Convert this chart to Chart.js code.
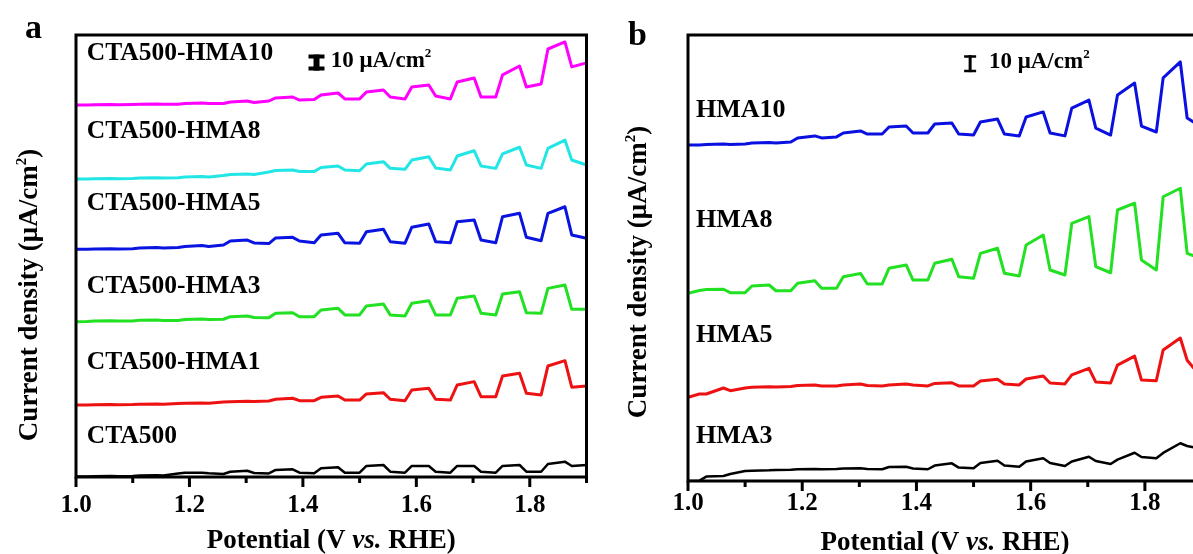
<!DOCTYPE html>
<html><head><meta charset="utf-8">
<script src="https://cdn.jsdelivr.net/npm/chart.js@4.4.1/dist/chart.umd.min.js"></script>
<style>
html,body{margin:0;padding:0;background:#fff;overflow:hidden;width:1193px;height:554px;}
#ca{position:absolute;left:0;top:0;}
#cb{position:absolute;left:593px;top:0;}
</style></head><body>
<canvas id="ca" width="600" height="554"></canvas>
<canvas id="cb" width="700" height="554"></canvas>
<script>
// ---- shared potential axis samples (V vs. RHE) ----
const potential = [1.000,
 1.020,1.032,1.062,1.074, 1.100,1.112,1.142,1.154, 1.180,1.192,1.222,1.234,
 1.260,1.272,1.302,1.314, 1.340,1.352,1.382,1.394, 1.420,1.432,1.462,1.474,
 1.500,1.512,1.542,1.554, 1.580,1.592,1.622,1.634, 1.660,1.672,1.702,1.714,
 1.740,1.752,1.782,1.794, 1.820,1.832,1.862,1.874, 1.900];

// ---- panel a (offset current density, uA/cm2) ----
const cta500HMA10 = [232.5, 232.5,232.6,232.8,232.6, 232.8,232.9,233.1,232.9, 232.9,233.4,233.8,233.4,
 233.4,234.4,235.0,234.1, 235.0,236.9,237.5,235.6, 235.9,238.8,240.0,236.3,
 236.3,240.6,241.9,237.5, 236.3,243.8,245.0,238.1, 236.3,246.9,249.4,237.5,
 237.5,251.3,256.9,243.8, 245.6,267.5,271.9,256.3, 258.8];
const cta500HMA8 = [186.3, 186.3,186.4,186.5,186.4, 186.6,186.9,187.0,186.9, 187.0,187.5,187.8,187.5,
 188.4,189.1,189.4,189.1, 190.6,191.6,191.9,190.9, 190.9,193.4,194.4,191.9,
 191.4,195.6,197.1,192.9, 192.3,198.1,200.2,193.1, 191.9,200.6,203.9,194.4,
 192.9,201.9,206.1,195.0, 192.9,205.4,210.6,198.1, 195.0];
const cta500HMA5 = [142.3, 142.3,142.5,142.7,142.5, 142.7,143.1,143.4,143.1, 143.4,144.1,144.7,144.1,
 145.0,147.5,148.1,146.3, 145.9,149.4,149.8,147.5, 146.4,151.3,152.3,146.4,
 146.1,153.3,154.8,147.1, 146.1,156.1,158.1,147.1, 146.4,159.6,160.6,148.1,
 146.4,162.7,164.8,149.8, 147.7,164.8,168.9,151.3, 149.2];
const cta500HMA3 = [97.1, 97.2,97.5,97.6,97.5, 97.5,97.9,98.1,97.8, 97.8,98.4,98.8,98.4,
 98.6,100.2,100.6,99.7, 99.6,102.3,102.7,100.2, 100.2,104.4,105.4,101.3,
 101.3,106.9,108.1,101.3, 100.6,108.6,110.2,101.3, 101.3,111.7,113.1,102.3,
 101.3,114.4,115.8,102.7, 102.3,117.9,120.0,104.8, 104.8];
const cta500HMA1 = [45.0, 45.0,45.1,45.3,45.1, 45.3,45.5,45.6,45.5, 45.9,46.1,46.3,46.1,
 46.9,47.1,47.3,47.2, 47.5,48.6,49.2,47.7, 47.7,49.8,50.6,48.1,
 48.1,51.9,52.7,48.6, 47.7,54.4,55.4,48.6, 48.1,57.5,59.6,50.2,
 50.2,63.1,64.8,52.3, 51.3,69.4,72.7,56.1, 56.9];
const cta500 = [0.3, 0.3,0.5,0.6,0.5, 0.6,0.9,1.1,0.9, 2.2,2.7,2.7,2.3,
 1.9,3.3,3.9,2.5, 2.2,4.4,4.8,2.7, 2.3,5.4,6.1,2.7,
 2.7,6.9,7.5,3.3, 2.7,6.9,6.9,3.3, 2.7,6.9,6.9,3.3,
 2.7,6.9,7.5,3.3, 3.3,8.1,9.6,6.9, 7.5];

// ---- panel b ----
const hma10 = [197.6, 197.6,197.9,198.2,197.9, 198.2,198.8,199.1,198.8, 199.4,201.8,203.0,201.8,
 202.4,204.7,205.9,204.1, 204.1,208.2,208.8,204.7, 204.7,210.0,210.6,204.1,
 203.5,211.2,212.9,204.1, 203.0,214.1,217.1,204.7, 203.0,219.4,224.1,207.6,
 203.5,227.1,234.1,208.8, 205.3,237.1,246.5,213.5, 208.0];
const hma8 = [110.4, 112.1,112.6,112.8,110.8, 110.8,114.7,115.3,111.9, 111.9,116.3,117.8,113.4,
 113.4,120.2,122.1,115.9, 115.9,125.1,127.1,118.2, 118.2,128.1,130.4,120.2,
 119.2,133.9,136.9,122.2, 120.6,138.8,144.7,124.1, 121.2,151.6,155.5,126.1,
 122.5,159.4,163.4,130.0, 124.1,167.2,172.2,133.9, 130.6];
const hma5 = [49.2, 51.2,51.2,54.7,53.1, 54.7,55.1,55.5,55.3, 55.6,56.2,56.5,55.9,
 55.9,56.5,57.1,56.2, 55.9,56.5,57.1,56.5, 55.9,57.4,57.8,55.9,
 55.9,58.8,59.8,57.1, 56.5,60.0,61.8,57.6, 57.1,62.4,66.3,58.2,
 57.6,68.2,73.5,59.4, 59.0,77.1,84.1,71.0, 60.6];
const hma3 = [0.0, 0.2,2.6,2.9,4.1, 5.9,6.1,6.3,6.5, 6.6,6.9,7.1,6.9,
 7.1,7.4,7.5,7.1, 6.9,8.2,8.4,7.4, 6.9,9.1,10.4,7.9,
 7.5,10.6,11.9,9.1, 8.4,11.5,13.4,10.6, 8.8,11.5,14.3,11.8,
 10.0,12.6,16.6,14.1, 13.4,16.5,22.2,20.6, 18.8];

// ---- text ----
const xTitle = [['Potential (V ', ''], ['vs.', 'italic '], [' RHE)', '']];
const yTitle = 'Current density (\u03bcA/cm';
const scaleBarText = '10 \u03bcA/cm';
const labelsA = ['CTA500-HMA10','CTA500-HMA8','CTA500-HMA5','CTA500-HMA3','CTA500-HMA1','CTA500'];
const labelsB = ['HMA10','HMA8','HMA5','HMA3'];
const labelPosA = [[1.019,260.6],[1.019,211.9],[1.019,166.9],[1.019,115.0],[1.019,67.5],[1.019,21.3]];
const labelPosB = [[1.014,214.1],[1.014,149.4],[1.014,81.8],[1.014,22.4]];

const SERIF = '"Liberation Serif","Times New Roman",serif';

function drawRich(ctx, parts, x, y, align){
  let w = 0;
  for (const p of parts){ ctx.font = p.font; w += ctx.measureText(p.t).width; }
  let cx = align === 'center' ? x - w/2 : x;
  for (const p of parts){ ctx.font = p.font; ctx.fillText(p.t, cx, y + (p.dy||0)); cx += ctx.measureText(p.t).width; }
}

function decoPlugin(cfg){
  return {
    id: 'deco',
    afterDatasetsDraw(chart){
      const ctx = chart.ctx, a = chart.chartArea;
      const xs = chart.scales.x, ys = chart.scales.y;
      ctx.save();
      ctx.strokeStyle = '#000'; ctx.fillStyle = '#000';
      // frame
      ctx.lineWidth = 3;
      ctx.beginPath();
      ctx.moveTo(a.left, a.bottom); ctx.lineTo(a.left, a.top); ctx.lineTo(a.right, a.top);
      ctx.lineTo(a.right, a.bottom); ctx.closePath(); ctx.stroke();
      // tick marks (outward)
      ctx.lineWidth = 3;
      for (const t of xs.ticks){
        const major = Math.round(t.value*10) % 2 === 0;
        const px = xs.getPixelForValue(t.value);
        ctx.beginPath(); ctx.moveTo(px, a.bottom); ctx.lineTo(px, a.bottom + (major ? 10 : 6)); ctx.stroke();
      }
      ctx.textBaseline = 'alphabetic';
      // panel letter
      ctx.font = 'bold 34px ' + SERIF;
      ctx.fillText(cfg.letter, a.left + cfg.letterDx, a.top + cfg.letterDy);
      // x title
      drawRich(ctx, xTitle.map(p => ({t:p[0], font: p[1] + 'bold 27px ' + SERIF})), (a.left + a.right)/2, cfg.xTitleY, 'center');
      // y title (rotated)
      ctx.save();
      ctx.translate(a.left + cfg.yTitleDx, cfg.yTitleCy);
      ctx.rotate(-Math.PI/2);
      drawRich(ctx, [
        {t: yTitle, font: 'bold 27px ' + SERIF},
        {t: '2', font: 'bold 15px ' + SERIF, dy: -11},
        {t: ')', font: 'bold 27px ' + SERIF}
      ], 0, 9, 'center');
      ctx.restore();
      // series labels
      cfg.labels.forEach((s, i) => {
        ctx.font = 'bold ' + cfg.labelSize + 'px ' + SERIF;
        ctx.fillText(s, xs.getPixelForValue(cfg.labelPos[i][0]), ys.getPixelForValue(cfg.labelPos[i][1]));
      });
      // scale bar (10 uA/cm2)
      const bx = xs.getPixelForValue(cfg.bar.x);
      const y0 = ys.getPixelForValue(cfg.bar.y0), y1 = ys.getPixelForValue(cfg.bar.y0 + 10);
      ctx.lineWidth = cfg.bar.stem;
      ctx.beginPath(); ctx.moveTo(bx, y0); ctx.lineTo(bx, y1); ctx.stroke();
      ctx.lineWidth = cfg.bar.cap;
      ctx.beginPath();
      ctx.moveTo(bx - cfg.bar.half, y0 - cfg.bar.cap/2); ctx.lineTo(bx + cfg.bar.half, y0 - cfg.bar.cap/2);
      ctx.moveTo(bx - cfg.bar.half, y1 + cfg.bar.cap/2); ctx.lineTo(bx + cfg.bar.half, y1 + cfg.bar.cap/2);
      ctx.stroke();
      drawRich(ctx, [
        {t: scaleBarText, font: 'bold 23px ' + SERIF},
        {t: '2', font: 'bold 13px ' + SERIF, dy: -10}
      ], xs.getPixelForValue(cfg.bar.tx), ys.getPixelForValue(cfg.bar.ty), 'left');
      ctx.restore();
    }
  };
}

function ds(label, vals, color, w){
  return {label, data: potential.map((x, i) => ({x, y: vals[i]})), borderColor: color, borderWidth: w,
    pointRadius: 0, tension: 0, fill: false, borderJoinStyle: 'round', borderCapStyle: 'round'};
}

function makeChart(id, datasets, yMax, pad, xHeight, tickPad, cfg){
  return new Chart(document.getElementById(id), {
    type: 'line',
    data: {datasets},
    options: {
      responsive: false, animation: false, devicePixelRatio: 1,
      layout: {padding: pad},
      plugins: {legend: {display: false}, tooltip: {enabled: false}},
      scales: {
        x: {type: 'linear', min: 1.0, max: 1.9,
            border: {display: false}, grid: {display: false, drawTicks: false},
            afterFit(s){ s.height = xHeight; },
            ticks: {stepSize: 0.1, autoSkip: false, maxRotation: 0, minRotation: 0, includeBounds: false,
              padding: tickPad, color: '#000', font: {family: SERIF, size: 25, weight: 'bold'},
              callback: (v) => Math.round(v*10) % 2 === 0 ? Number(v).toFixed(1) : ''}},
        y: {type: 'linear', min: 0, max: yMax, display: false}
      }
    },
    plugins: [decoPlugin(cfg)]
  });
}

makeChart('ca', [
  ds('CTA500-HMA10', cta500HMA10, '#ff00ff', 3),
  ds('CTA500-HMA8', cta500HMA8, '#22e6e6', 3),
  ds('CTA500-HMA5', cta500HMA5, '#0a14e0', 3),
  ds('CTA500-HMA3', cta500HMA3, '#22e022', 3),
  ds('CTA500-HMA1', cta500HMA1, '#ee1111', 3),
  ds('CTA500', cta500, '#000000', 2.5)
], 276.25, {left: 76, top: 35, right: 13, bottom: 0}, 77, 13.5, {
  letter: 'a', letterDx: -51, letterDy: 3, xTitleY: 548, yTitleDx: -48, yTitleCy: 295,
  labels: labelsA, labelPos: labelPosA, labelSize: 25.5,
  bar: {x: 1.424, y0: 254, tx: 1.449, ty: 256, stem: 6, cap: 4, half: 8}
});

makeChart('cb', [
  ds('HMA10', hma10, '#0a10e0', 3),
  ds('HMA8', hma8, '#22e022', 3),
  ds('HMA5', hma5, '#ee1111', 3),
  ds('HMA3', hma3, '#000000', 2.5)
], 262.35, {left: 95, top: 35, right: 91, bottom: 0}, 73, 8, {
  letter: 'b', letterDx: -60, letterDy: 10, xTitleY: 550, yTitleDx: -51, yTitleCy: 272,
  labels: labelsB, labelPos: labelPosB, labelSize: 26,
  bar: {x: 1.494, y0: 240.5, tx: 1.527, ty: 242.9, stem: 3, cap: 2.5, half: 6}
});
</script>
</body></html>
